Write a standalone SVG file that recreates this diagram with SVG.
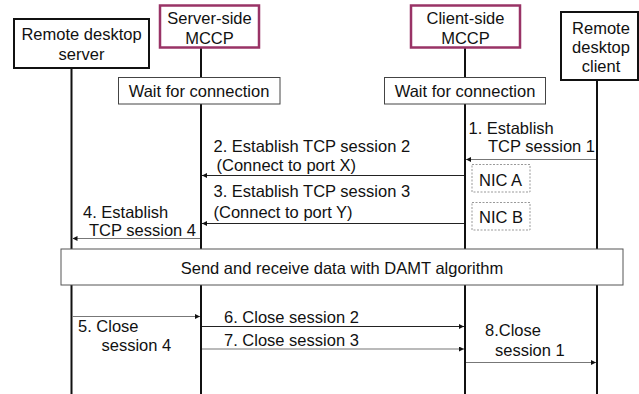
<svg xmlns="http://www.w3.org/2000/svg" width="639" height="394" viewBox="0 0 639 394">
<style>
text{font-family:"Liberation Sans",Arial,sans-serif;font-size:16.5px;fill:#111}
.c{text-anchor:middle}
.life{stroke:#111;stroke-width:2;fill:none}
.actor{fill:#fff;stroke:#111;stroke-width:2}
.mccp{fill:#fff;stroke:#993366;stroke-width:2.5}
.wait{fill:#fff;stroke:#444;stroke-width:1}
.nic{fill:#fff;stroke:#999;stroke-width:1;stroke-dasharray:2 1.5}
.msg{stroke:#222;stroke-width:1.2;fill:none;marker-end:url(#ah)}
.msg2{stroke:#777;stroke-width:1.2;fill:none;marker-end:url(#ah)}
</style>
<defs>
<marker id="ah" viewBox="0 0 6 6" refX="6" refY="3" markerWidth="5" markerHeight="5" orient="auto" markerUnits="userSpaceOnUse">
<path d="M0,0 L6,3 L0,6 Z" fill="#111"/>
</marker>
</defs>
<rect width="639" height="394" fill="#fff"/>
<g id="lifelines">
<line class="life" x1="71.5" y1="68" x2="71.5" y2="394"/>
<line class="life" x1="201" y1="48" x2="201" y2="394"/>
<line class="life" x1="465" y1="48" x2="465" y2="394"/>
<line class="life" x1="597" y1="80" x2="597" y2="394"/>
</g>
<g id="remote-desktop-server">
<rect class="actor" x="14" y="19" width="135" height="49"/>
<text class="c" x="81.5" y="39.5">Remote desktop</text>
<text class="c" x="81.5" y="59.5">server</text>
</g>
<g id="server-side-mccp">
<rect class="mccp" x="160" y="5.5" width="99" height="42"/>
<text class="c" x="209.5" y="23.5">Server-side</text>
<text class="c" x="209.5" y="44">MCCP</text>
</g>
<g id="client-side-mccp">
<rect class="mccp" x="411" y="5.5" width="109" height="42"/>
<text class="c" x="465.5" y="23.5">Client-side</text>
<text class="c" x="465.5" y="44">MCCP</text>
</g>
<g id="remote-desktop-client">
<rect class="actor" x="561" y="12" width="77" height="68"/>
<text class="c" x="601" y="33.5">Remote</text>
<text class="c" x="601" y="53">desktop</text>
<text class="c" x="601" y="72">client</text>
</g>
<g id="wait-server">
<rect class="wait" x="118.5" y="77.5" width="161.5" height="26.5"/>
<text class="c" x="199" y="97">Wait for connection</text>
</g>
<g id="wait-client">
<rect class="wait" x="384.5" y="77.5" width="161" height="26.5"/>
<text class="c" x="465" y="97">Wait for connection</text>
</g>
<g id="nic-a">
<rect class="nic" x="472" y="164.5" width="58" height="27.5"/>
<text x="479" y="186">NIC A</text>
</g>
<g id="nic-b">
<rect class="nic" x="472" y="202.5" width="58" height="27.5"/>
<text x="479" y="223">NIC B</text>
</g>
<g id="damt">
<rect x="61" y="249" width="562" height="36" fill="#fff" stroke="#555" stroke-width="1"/>
<text class="c" x="342" y="273.5">Send and receive data with DAMT algorithm</text>
</g>
<g id="connectors">
<line class="msg2" x1="596" y1="159.5" x2="466" y2="159.5"/>
<line class="msg" x1="464" y1="175.5" x2="202" y2="175.5"/>
<line class="msg" x1="464" y1="223.5" x2="202" y2="223.5"/>
<line class="msg2" x1="200" y1="238.5" x2="72.5" y2="238.5"/>
<line class="msg2" x1="72.5" y1="316.5" x2="200" y2="316.5"/>
<line class="msg" x1="202" y1="326.5" x2="464" y2="326.5"/>
<line class="msg2" x1="202" y1="349" x2="464" y2="349"/>
<line class="msg2" x1="466" y1="362.5" x2="596" y2="362.5"/>
</g>
<g id="labels">
<text x="468.5" y="133.5">1.  Establish</text>
<text x="488" y="152">TCP session 1</text>
<text x="213.5" y="152">2. Establish TCP session 2</text>
<text x="216.5" y="171">(Connect to port X)</text>
<text x="213.5" y="196.5">3. Establish TCP session 3</text>
<text x="213.5" y="217.5">(Connect to port Y)</text>
<text x="83" y="217.5">4.  Establish</text>
<text x="89" y="236">TCP session 4</text>
<text x="78" y="331.5">5. Close</text>
<text x="101.5" y="351">session 4</text>
<text x="224" y="323">6. Close session 2</text>
<text x="224" y="345.5">7. Close session 3</text>
<text x="485" y="336">8.Close</text>
<text x="495" y="355.5">session 1</text>
</g>
</svg>
